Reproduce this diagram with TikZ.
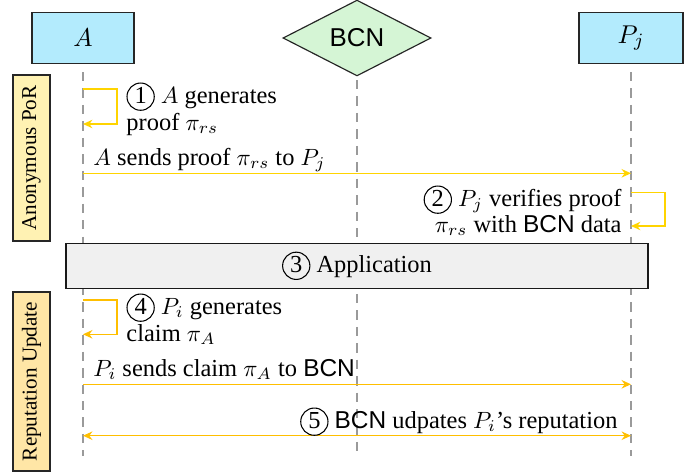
\documentclass[tikz,border=0pt]{standalone}
\usepackage{fontspec}
\setmainfont{Liberation Serif}
\setsansfont{Liberation Sans}
\usetikzlibrary{shapes.geometric,arrows.meta}
\definecolor{actorfill}{HTML}{B3EBFD}
\definecolor{bcnfill}{HTML}{D5F5D5}
\definecolor{porfill}{HTML}{FFF2B3}
\definecolor{repfill}{HTML}{FFE6A6}
\definecolor{appfill}{HTML}{F0F0F0}
\definecolor{msgA}{HTML}{FFD400}
\definecolor{msgB}{HTML}{FFBF00}
\definecolor{lifegray}{HTML}{9A9A9A}
\newcommand\cnum[1]{\tikz[x=1cm,y=1cm,baseline=0pt]{\node[anchor=base,inner sep=0pt,minimum width=0pt,minimum height=0pt,draw=none,fill=none,shape=rectangle,rotate=0](cn){#1};\draw[line width=0.45pt,draw=black,fill=none](0,2.7pt) circle (5.8pt);}}
\begin{document}
\begin{tikzpicture}[x=0.4255pt,y=-0.4255pt,
  every node/.style={font=\fontsize{10.4}{12.5}\selectfont},
  actor/.style={draw=black!85,line width=0.5pt,fill=actorfill,minimum width=43.4pt,minimum height=21.7pt,inner sep=0pt,font=\fontsize{11}{13}\selectfont},
  life/.style={draw=lifegray,line width=0.5pt,dash pattern=on 4pt off 3pt},
  phase/.style={draw=black!85,line width=0.5pt,rotate=90,minimum height=15.7pt,inner sep=0pt,font=\small},
  msga/.style={draw=msgA,line width=0.6pt},
  msgb/.style={draw=msgB,line width=0.6pt},
  tip/.style={-{Stealth[length=4pt,width=3.6pt]}},
  txt/.style={inner sep=0pt}
]
\useasboundingbox (0,0) rectangle (697,472);
% actors
\node[actor] (A) at (83,38) {$A$};
\node[actor,minimum width=44.3pt] (P) at (631,38) {$P_j$};
\node[diamond,draw=black!85,line width=0.5pt,fill=bcnfill,aspect=1.95,inner sep=0pt,minimum width=63pt,minimum height=32.3pt,font=\sffamily\fontsize{11}{13}\selectfont] (B) at (357,38) {BCN};
% lifelines
\coordinate (At) at (83,72); \coordinate (Ab) at (83,456);
\coordinate (Bt) at (357,80); \coordinate (Bb) at (357,456);
\coordinate (Pt) at (631,72); \coordinate (Pb) at (631,456);
\draw[life] (At) -- (Ab);
\draw[life] (Bt) -- (Bb);
\draw[life] (Pt) -- (Pb);
% phases
\node[phase,fill=porfill,minimum width=70.6pt] (ph1) at (31.5,158) {Anonymous PoR};
\node[phase,fill=repfill,minimum width=76.2pt] (ph2) at (31.5,381.5) {Reputation Update};
% application
\node[draw=black!90,line width=0.5pt,fill=appfill,minimum width=247.6pt,minimum height=19.1pt,inner sep=0pt] (app) at (357,265.8) {\cnum{3} Application};
% step 1
\coordinate (s1a) at (83,89); \coordinate (s1b) at (83,124);
\draw[msga,tip] (s1a) -- (117,89) -- (117,124) -- (s1b);
\node[txt,anchor=base west] (t1a) at (126,103) {\cnum{1} $A$ generates};
\node[txt,anchor=base west] (t1b) at (126,130) {proof $\pi_{rs}$};
% message 1
\coordinate (m1s) at (83,173.3); \coordinate (m1e) at (631,173.3);
\draw[msga,tip] (m1s) -- (m1e);
\node[txt,anchor=base west] (t2) at (93,165) {$A$ sends proof $\pi_{rs}$ to $P_j$};
% step 2
\coordinate (s2a) at (631,192.7); \coordinate (s2b) at (631,226);
\draw[msga,tip] (s2a) -- (665,192.7) -- (665,226) -- (s2b);
\node[txt,anchor=base east] (t3a) at (622,206) {\cnum{2} $P_j$ verifies proof};
\node[txt,anchor=base east] (t3b) at (622,232) {$\pi_{rs}$ with \textsf{BCN} data};
% step 4
\coordinate (s4a) at (83,300); \coordinate (s4b) at (83,334.3);
\draw[msgb,tip] (s4a) -- (117,300) -- (117,334.3) -- (s4b);
\node[txt,anchor=base west] (t4a) at (126,314) {\cnum{4} $P_i$ generates};
\node[txt,anchor=base west] (t4b) at (126,341) {claim $\pi_A$};
% message 2
\coordinate (m2s) at (83,384.3); \coordinate (m2e) at (631,384.3);
\draw[msgb,tip] (m2s) -- (m2e);
\node[txt,anchor=base west] (t5) at (93,376) {$P_i$ sends claim $\pi_A$ to \textsf{BCN}};
% step 5
\coordinate (m3s) at (83,435.7); \coordinate (m3e) at (631,435.7);
\draw[msgb,{Stealth[length=4pt,width=3.6pt]}-{Stealth[length=4pt,width=3.6pt]}] (m3s) -- (m3e);
\node[txt,anchor=base east] (t6) at (618,428) {\cnum{5} \textsf{BCN} udpates $P_i$'s reputation};
\end{tikzpicture}
\end{document}
